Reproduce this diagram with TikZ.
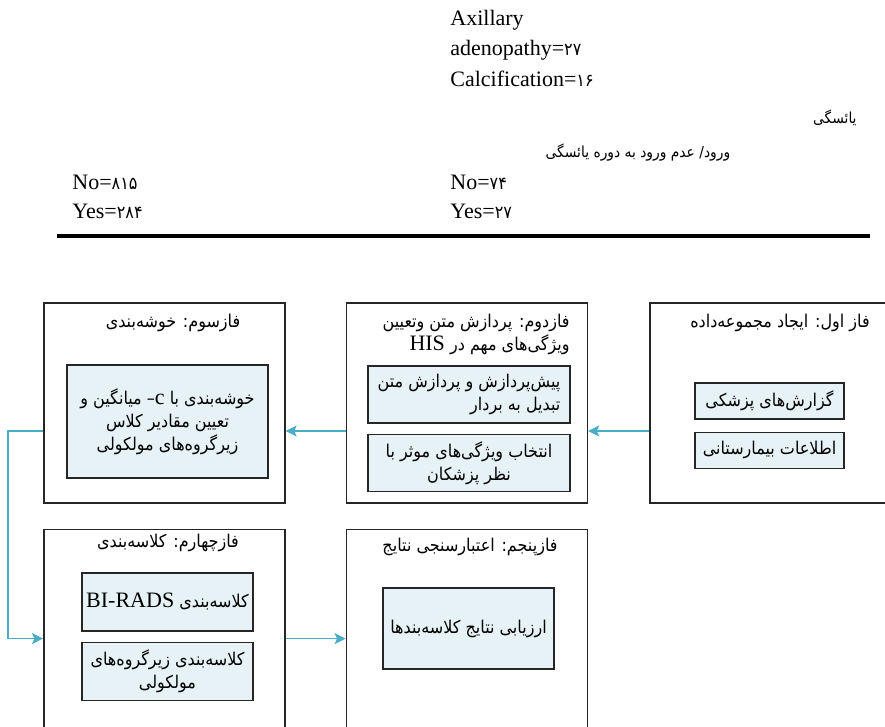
\documentclass[tikz,border=0pt]{standalone}
\usepackage{fontspec}
\setmainfont{Liberation Serif}
\newfontfamily\fafont[Script=Arabic,Scale=0.8,FakeStretch=0.91]{DejaVu Sans}
\TeXXeTstate=1
\usepackage{tikz}
\usetikzlibrary{arrows.meta, positioning}
\definecolor{cArrow}{HTML}{4BACC6}
\definecolor{cFill}{HTML}{E7F2F6}
\newcommand{\fa}[1]{{\fafont\beginR #1\endR}}
\newcommand{\en}[1]{\beginL{\rmfamily #1}\endL{}}
\tikzset{
	phase/.style={rectangle, draw=black!85, line width=0.8pt, minimum width=120.5pt, minimum height=100pt, inner sep=0pt},
	ttl/.style={inner sep=0pt, align=center},
	task/.style={rectangle, draw=black!85, line width=0.7pt, fill=cFill, align=center, inner sep=2pt},
	flow/.style={-{Stealth[length=5.5pt, width=5.5pt, inset=1.2pt]}, draw=cArrow, line width=0.7pt},
	% rows of the table above the diagram
	txt/.style={anchor=base west, inner sep=0pt},
}
\begin{document}
\begin{tikzpicture}[x=0.5pt, y=-0.5pt, font=\fontsize{11}{11.5}\selectfont]
	\useasboundingbox (0,0) rectangle (885,727);
	\clip (0,0) rectangle (885,727);
	% table
	\node[txt] (ax1) at (450,26) {Axillary};
	\node[txt] (ax2) at (450,56) {adenopathy={\fafont ۲۷}};
	\node[txt] (calc) at (450,87) {Calcification={\fafont ۱۶}};
	\node[anchor=east, inner sep=0pt, font=\fontsize{9.5}{10}\selectfont] (yas) at (857,118) {\fa{یائسگی}};
	\node[inner sep=0pt, font=\fontsize{9.5}{10}\selectfont] (vorud) at (638,153) {\fa{ورود/ عدم ورود به دوره یائسگی}};
	\node[txt] (no1) at (72,190) {No={\fafont ۸۱۵}};
	\node[txt] (yes1) at (72,219) {Yes={\fafont ۲۸۴}};
	\node[txt] (no2) at (450,190) {No={\fafont ۷۴}};
	\node[txt] (yes2) at (450,219) {Yes={\fafont ۲۷}};
	\draw[line width=2pt] (57,236) -- (870,236);
	% phases
	\node[phase, minimum width=125pt] (ph1) at (775,403) {};
	\node[phase, left=30.5pt of ph1] (ph2) {};
	\node[phase, left=30pt of ph2] (ph3) {};
	\node[phase, minimum height=109pt, below=12.5pt of ph3] (ph4) {};
	\node[phase, minimum height=109pt, right=30pt of ph4] (ph5) {};
	\node[ttl] (t1) at (780,323) {\fa{فاز اول: ایجاد مجموعه‌داده}};
	\node[ttl, align=right, anchor=east] (t2) at (570,334) {\fa{فازدوم: پردازش متن وتعیین}\\\fa{ویژگی‌های مهم در \en{HIS}}};
	\node[ttl] (t3) at (173,323) {\fa{فازسوم: خوشه‌بندی}};
	\node[ttl] (t4) at (168,543) {\fa{فازچهارم: کلاسه‌بندی}};
	\node[ttl] (t5) at (470,547) {\fa{فازپنجم: اعتبارسنجی نتایج}};
	\node[task, minimum width=74.5pt, minimum height=18pt] (med) at (769.5,401) {\fa{گزارش‌های پزشکی}};
	\node[task, minimum width=74.5pt, minimum height=18pt, below=6pt of med] (hosp) {\fa{اطلاعات بیمارستانی}};
	\node[task, minimum width=101pt, minimum height=28.5pt, align=right] (prep) at (469,394.5) {\fa{پیش‌پردازش و پردازش متن}\\\fa{تبدیل به بردار}};
	\node[task, minimum width=101pt, minimum height=28.5pt, below=5pt of prep] (sel) {\fa{انتخاب ویژگی‌های موثر با}\\\fa{نظر پزشکان}};
	\node[task, minimum width=100.5pt, minimum height=56.5pt] (clus) at (167.5,421.5) {\fa{خوشه‌بندی با \en{c}– میانگین و}\\\fa{تعیین مقادیر کلاس}\\\fa{زیرگروه‌های مولکولی}};
	\node[task, minimum width=85.5pt, minimum height=29pt] (birads) at (167.5,602) {\fa{کلاسه‌بندی \en{BI-RADS}}};
	\node[task, minimum width=85.5pt, minimum height=29pt, below=5pt of birads] (sub) {\fa{کلاسه‌بندی زیرگروه‌های}\\\fa{مولکولی}};
	\node[task, minimum width=85.5pt, minimum height=40.5pt] (eval) at (468.5,628.5) {\fa{ارزیابی نتایج کلاسه‌بندها}};
	\draw[flow] ([yshift=-14pt]ph1.west) -- ([yshift=-14pt]ph2.east);
	\draw[flow] ([yshift=-14pt]ph2.west) -- ([yshift=-14pt]ph3.east);
	\draw[flow] ([yshift=-14pt]ph3.west) -- ++(-17.5pt,0) |- (ph4.west);
	\draw[flow] (ph4) -- (ph5);
\end{tikzpicture}
\end{document}
